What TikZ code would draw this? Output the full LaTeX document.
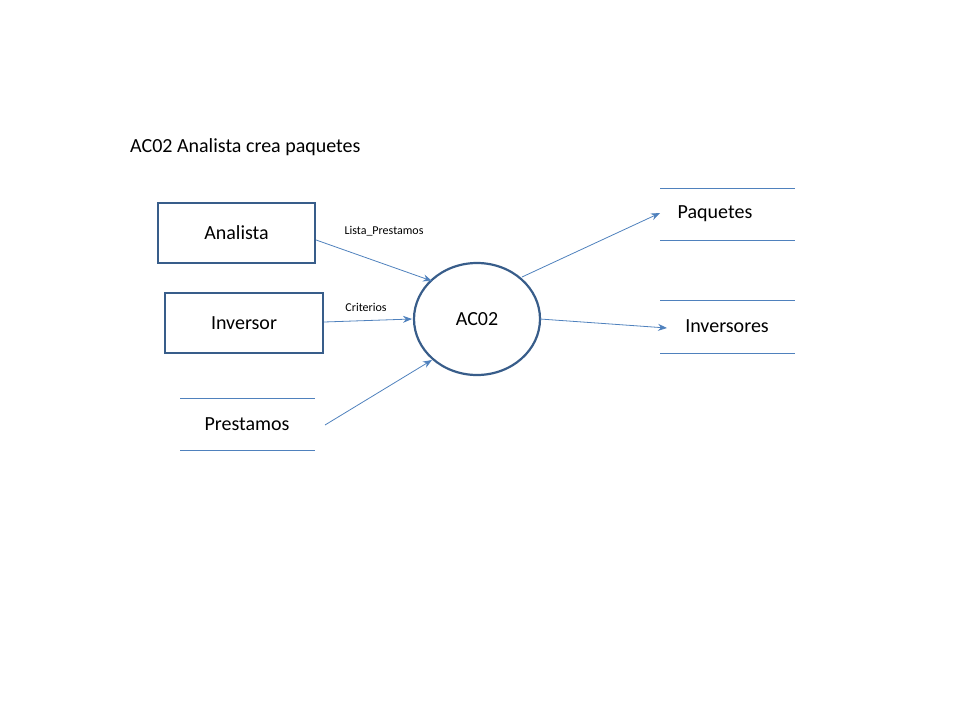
\documentclass[tikz,border=0pt]{standalone}
\usepackage{fontspec}
\setmainfont{Carlito}
\usetikzlibrary{arrows.meta,shapes.geometric}
\definecolor{dk}{HTML}{385D8A}
\definecolor{lt}{HTML}{4F81BD}
\tikzset{
 ent/.style={draw=dk,line width=2.2pt,inner sep=0pt,font=\fontsize{20}{24}\selectfont},
 lbl/.style={font=\fontsize{20}{24}\selectfont,inner sep=0pt},
 small/.style={font=\fontsize{12}{14}\selectfont,inner sep=0pt},
 flow/.style={draw=lt,line width=0.8pt,-{Stealth[length=9pt,width=7pt]}},
 store/.style={draw=lt,line width=0.8pt}
}
\begin{document}
\begin{tikzpicture}[x=1pt,y=-1pt]
\useasboundingbox (0,0) rectangle (960,720);
\node[lbl,anchor=west] (title) at (130,147) {AC02 Analista crea paquetes};
\node[ent,minimum width=157pt,minimum height=60pt] (an) at (236.5,233) {Analista};
\node[ent,minimum width=158pt,minimum height=60pt] (inv) at (244,323) {Inversor};
\draw[store] (180,398) -- (315,398) (180,450) -- (315,450);
\node[lbl] (pr) at (247,424) {Prestamos};
\coordinate (prR) at (325,425);
\node[draw=dk,line width=2.2pt,ellipse,minimum width=126pt,minimum height=112pt,inner sep=0pt] (ac) at (477,319) {};
\node[lbl] (acl) at (477,319) {AC02};
\draw[store] (660,188) -- (795,188) (660,240) -- (795,240);
\node[lbl] (pq) at (715,214) {Paquetes};
\draw[store] (660,300) -- (795,300) (660,353) -- (795,353);
\node[lbl] (ivs) at (727,326) {Inversores};
\coordinate (a1) at (432,281);
\coordinate (a2) at (412,319);
\coordinate (a3) at (432,360);
\coordinate (b1) at (522,277);
\coordinate (b2) at (540,319);
\coordinate (pqL) at (660,213);
\coordinate (ivL) at (667,328);
\draw[flow] (an.east |- 0,240) -- (a1);
\draw[flow] (inv.east |- 0,322) -- (a2);
\draw[flow] (prR) -- (a3);
\draw[flow] (b1) -- (pqL);
\draw[flow] (b2) -- (ivL);
\node[small] (l1) at (384,231) {Lista\_Prestamos};
\node[small] (l2) at (366,307) {Criterios};
\end{tikzpicture}
\end{document}
